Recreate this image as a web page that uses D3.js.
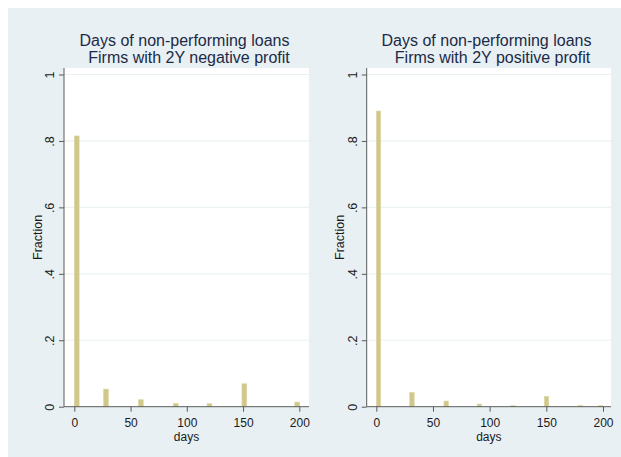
<!DOCTYPE html>
<html>
<head>
<meta charset="utf-8">
<script src="https://cdn.jsdelivr.net/npm/d3@7"></script>
<style>
  html, body { margin: 0; padding: 0; background: #ffffff; }
  svg text { font-family: "Liberation Sans", Arial, sans-serif; }
</style>
</head>
<body>
<svg id="chart" width="621" height="457"></svg>
<script>
// Histogram bins (left edge in days) and fractions for each group
const negBinStart = [0, 26, 57, 88, 118, 149, 196];
const negFraction = [0.815, 0.053, 0.021, 0.010, 0.009, 0.069, 0.014];
const posBinStart = [0, 29.5, 59.7, 89, 118.6, 148.2, 178, 196.2];
const posFraction = [0.89, 0.043, 0.017, 0.008, 0.003, 0.031, 0.004, 0.003];
const negBinWidth = 4.3;
const posBinWidth = 3.9;

const yTicks = [0, 0.2, 0.4, 0.6, 0.8, 1];
const yTickLabels = ["0", ".2", ".4", ".6", ".8", "1"];
const xTicks = [0, 50, 100, 150, 200];

const titleLine1 = "Days of non-performing loans";
const negTitle2 = "Firms with 2Y negative profit";
const posTitle2 = "Firms with 2Y positive profit";

const svg = d3.select("#chart");

// graph region background
svg.append("rect")
  .attr("x", 8).attr("y", 8)
  .attr("width", 613).attr("height", 449)
  .attr("fill", "#e8f0f3");

function drawPanel(cfg) {
  const g = svg.append("g");
  const x = d3.scaleLinear().domain([0, 200]).range([cfg.x0, cfg.x200]);
  const y = d3.scaleLinear().domain([0, 1]).range([406.7, 74.5]);

  // plot region
  g.append("rect")
    .attr("x", cfg.left).attr("y", 68)
    .attr("width", cfg.right - cfg.left).attr("height", y(0) - 68)
    .attr("fill", "#ffffff");

  // horizontal grid
  g.selectAll("line.grid").data(yTicks.filter(d => d > 0)).join("line")
    .attr("class", "grid")
    .attr("x1", cfg.left).attr("x2", cfg.right)
    .attr("y1", d => y(d)).attr("y2", d => y(d))
    .attr("stroke", "#eaf2f3").attr("stroke-width", 1.2);

  // bars
  g.selectAll("rect.bar").data(cfg.start.map((s, i) => ({s, v: cfg.frac[i]}))).join("rect")
    .attr("class", "bar")
    .attr("x", d => x(d.s))
    .attr("width", d => x(d.s + cfg.bw) - x(d.s))
    .attr("y", d => y(d.v))
    .attr("height", d => y(0) - y(d.v))
    .attr("fill", "#d0c88a")
    .attr("stroke", "#ddd6a4").attr("stroke-width", 0.6);

  // y axis
  const yAxis = d3.axisLeft(y).tickValues(yTicks)
    .tickFormat((d, i) => yTickLabels[i]).tickSize(5).tickSizeOuter(0);
  const ya = g.append("g").attr("transform", `translate(${cfg.left},0)`).call(yAxis);
  ya.select(".domain").attr("d", `M0,68V${y(0)}`).attr("stroke", "#5a5a5a");
  ya.selectAll(".tick line").attr("stroke", "#5a5a5a");
  ya.selectAll(".tick text")
    .attr("x", null).attr("dy", null)
    .attr("transform", "translate(-10,0) rotate(-90)")
    .attr("text-anchor", "middle")
    .attr("fill", "#1a1a1a")
    .attr("font-size", 12.5);

  // x axis
  const xAxis = d3.axisBottom(x).tickValues(xTicks).tickSize(5).tickSizeOuter(0);
  const xa = g.append("g").attr("transform", `translate(0,${y(0)})`).call(xAxis);
  xa.select(".domain").attr("d", `M${cfg.left},0H${cfg.right}`).attr("stroke", "#5a5a5a");
  xa.selectAll(".tick line").attr("stroke", "#5a5a5a");
  xa.selectAll(".tick text")
    .attr("y", 20.5).attr("dy", null)
    .attr("fill", "#1a1a1a").attr("font-size", 12);

  // axis titles
  g.append("text")
    .attr("x", (cfg.left + cfg.right) / 2).attr("y", 440.5)
    .attr("text-anchor", "middle").attr("font-size", 12).attr("fill", "#1a1a1a")
    .text("days");
  g.append("text")
    .attr("transform", `translate(${cfg.ylabX},${(68 + y(0)) / 2}) rotate(-90)`)
    .attr("text-anchor", "middle").attr("font-size", 12.5).attr("fill", "#1a1a1a")
    .text("Fraction");

  // title
  g.append("text")
    .attr("x", cfg.t1).attr("y", 45.7)
    .attr("text-anchor", "middle").attr("font-size", 16).attr("fill", "#1c2a48")
    .text(titleLine1);
  g.append("text")
    .attr("x", cfg.t2).attr("y", 62.7)
    .attr("text-anchor", "middle").attr("font-size", 16).attr("fill", "#1c2a48")
    .text(cfg.title2);
}

drawPanel({
  left: 64, right: 309, x0: 74.3, x200: 299.3,
  start: negBinStart, frac: negFraction, bw: negBinWidth,
  ylabX: 42, t1: 184.5, t2: 189, title2: negTitle2
});
drawPanel({
  left: 366.7, right: 611, x0: 376.3, x200: 603,
  start: posBinStart, frac: posFraction, bw: posBinWidth,
  ylabX: 344, t1: 486.5, t2: 492.5, title2: posTitle2
});
</script>
</body>
</html>
